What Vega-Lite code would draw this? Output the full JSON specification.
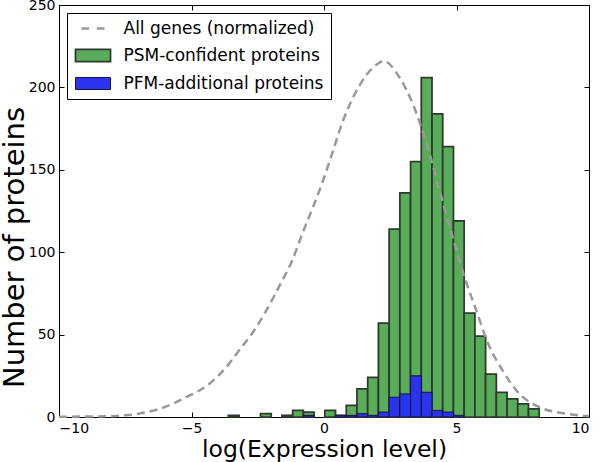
{
  "$schema": "https://vega.github.io/schema/vega-lite/v6.json",
  "width": 530,
  "height": 412,
  "autosize": {"type": "none"},
  "padding": {"left": 59, "top": 5, "right": 11, "bottom": 45},
  "background": "white",
  "config": {
    "view": {"stroke": "black", "strokeWidth": 1},
    "font": "DejaVu Sans",
    "axis": {
      "grid": false,
      "domainColor": "black",
      "tickColor": "black",
      "tickSize": -5,
      "labelPadding": 9,
      "labelFont": "DejaVu Sans",
      "labelFontSize": 14,
      "labelColor": "black",
      "titleFont": "DejaVu Sans",
      "titleFontWeight": "normal",
      "titleColor": "black"
    },
    "legend": {
      "labelFont": "DejaVu Sans",
      "labelFontSize": 17,
      "labelColor": "black",
      "title": null,
      "orient": "top-left",
      "offset": 8,
      "padding": 7,
      "strokeColor": "black",
      "fillColor": "white",
      "symbolSize": 196,
      "symbolOffset": 10.5,
      "symbolOpacity": 1,
      "labelOffset": 22,
      "labelLimit": 400,
      "rowPadding": 8
    }
  },
  "resolve": {"axis": {"x": "independent", "y": "independent"}},
  "datasets": {
    "bars": [
      {"x0": -3.610, "x1": -3.206, "count": 1, "series": "PSM-confident proteins"},
      {"x0": -2.397, "x1": -1.992, "count": 2, "series": "PSM-confident proteins"},
      {"x0": -1.588, "x1": -1.183, "count": 1, "series": "PSM-confident proteins"},
      {"x0": -1.183, "x1": -0.779, "count": 4, "series": "PSM-confident proteins"},
      {"x0": -0.779, "x1": -0.374, "count": 3, "series": "PSM-confident proteins"},
      {"x0": 0.031, "x1": 0.435, "count": 4, "series": "PSM-confident proteins"},
      {"x0": 0.435, "x1": 0.840, "count": 1, "series": "PSM-confident proteins"},
      {"x0": 0.840, "x1": 1.244, "count": 7, "series": "PSM-confident proteins"},
      {"x0": 1.244, "x1": 1.649, "count": 17, "series": "PSM-confident proteins"},
      {"x0": 1.649, "x1": 2.053, "count": 24, "series": "PSM-confident proteins"},
      {"x0": 2.053, "x1": 2.458, "count": 57, "series": "PSM-confident proteins"},
      {"x0": 2.458, "x1": 2.862, "count": 114, "series": "PSM-confident proteins"},
      {"x0": 2.862, "x1": 3.267, "count": 136, "series": "PSM-confident proteins"},
      {"x0": 3.267, "x1": 3.671, "count": 155, "series": "PSM-confident proteins"},
      {"x0": 3.671, "x1": 4.076, "count": 206, "series": "PSM-confident proteins"},
      {"x0": 4.076, "x1": 4.480, "count": 184, "series": "PSM-confident proteins"},
      {"x0": 4.480, "x1": 4.885, "count": 164, "series": "PSM-confident proteins"},
      {"x0": 4.885, "x1": 5.289, "count": 119, "series": "PSM-confident proteins"},
      {"x0": 5.289, "x1": 5.694, "count": 63, "series": "PSM-confident proteins"},
      {"x0": 5.694, "x1": 6.098, "count": 49, "series": "PSM-confident proteins"},
      {"x0": 6.098, "x1": 6.503, "count": 26, "series": "PSM-confident proteins"},
      {"x0": 6.503, "x1": 6.907, "count": 15, "series": "PSM-confident proteins"},
      {"x0": 6.907, "x1": 7.312, "count": 11, "series": "PSM-confident proteins"},
      {"x0": 7.312, "x1": 7.716, "count": 8, "series": "PSM-confident proteins"},
      {"x0": 7.716, "x1": 8.121, "count": 5, "series": "PSM-confident proteins"},
      {"x0": -0.779, "x1": -0.374, "count": 1, "series": "PFM-additional proteins"},
      {"x0": 0.435, "x1": 0.840, "count": 1, "series": "PFM-additional proteins"},
      {"x0": 0.840, "x1": 1.244, "count": 1, "series": "PFM-additional proteins"},
      {"x0": 1.244, "x1": 1.649, "count": 2, "series": "PFM-additional proteins"},
      {"x0": 1.649, "x1": 2.053, "count": 1, "series": "PFM-additional proteins"},
      {"x0": 2.053, "x1": 2.458, "count": 3, "series": "PFM-additional proteins"},
      {"x0": 2.458, "x1": 2.862, "count": 12, "series": "PFM-additional proteins"},
      {"x0": 2.862, "x1": 3.267, "count": 14, "series": "PFM-additional proteins"},
      {"x0": 3.267, "x1": 3.671, "count": 25, "series": "PFM-additional proteins"},
      {"x0": 3.671, "x1": 4.076, "count": 15, "series": "PFM-additional proteins"},
      {"x0": 4.076, "x1": 4.480, "count": 4, "series": "PFM-additional proteins"},
      {"x0": 4.480, "x1": 4.885, "count": 3, "series": "PFM-additional proteins"},
      {"x0": 4.885, "x1": 5.289, "count": 1, "series": "PFM-additional proteins"}
    ],
    "curve": [
      {"x": -10, "y": 0.1},
      {"x": -9, "y": 0.3},
      {"x": -8, "y": 0.5},
      {"x": -7.5, "y": 1},
      {"x": -7, "y": 2},
      {"x": -6.2, "y": 5},
      {"x": -5.2, "y": 12},
      {"x": -4.3, "y": 20.5},
      {"x": -3.7, "y": 30},
      {"x": -3.2, "y": 40.5},
      {"x": -2.7, "y": 51},
      {"x": -2.2, "y": 64},
      {"x": -1.7, "y": 79},
      {"x": -1.2, "y": 95},
      {"x": -0.8, "y": 112},
      {"x": -0.4, "y": 128},
      {"x": 0.0, "y": 145},
      {"x": 0.35, "y": 162},
      {"x": 0.7, "y": 179},
      {"x": 1.1, "y": 194},
      {"x": 1.6, "y": 207.5},
      {"x": 2.0, "y": 214},
      {"x": 2.25, "y": 216},
      {"x": 2.85, "y": 206},
      {"x": 3.35, "y": 190},
      {"x": 3.67, "y": 176},
      {"x": 4.05, "y": 156},
      {"x": 4.42, "y": 134},
      {"x": 4.86, "y": 109},
      {"x": 5.3, "y": 85},
      {"x": 5.74, "y": 65},
      {"x": 6.18, "y": 45},
      {"x": 6.75, "y": 28},
      {"x": 7.38, "y": 14},
      {"x": 8.13, "y": 6},
      {"x": 9.14, "y": 2},
      {"x": 10, "y": 0.5}
    ]
  },
  "layer": [
    {
      "data": {"name": "bars"},
      "mark": {"type": "bar", "fillOpacity": 1, "strokeOpacity": 1},
      "encoding": {
        "x": {"field": "x0", "type": "quantitative", "scale": {"domain": [-10, 10], "nice": false},
              "axis": {"values": [-10, -5, 0, 5, 10], "title": "log(Expression level)", "titleFontSize": 23.5,
                       "titleY": 39, "titleBaseline": "alphabetic"}},
        "x2": {"field": "x1"},
        "y": {"field": "count", "type": "quantitative", "scale": {"domain": [0, 250], "nice": false},
              "axis": {"values": [0, 50, 100, 150, 200, 250], "title": "Number of proteins", "titleFontSize": 29,
                       "titleX": -36, "titleY": 242, "titleAngle": 270, "titleBaseline": "alphabetic", "titleAlign": "center"}},
        "y2": {"datum": 0},
        "fill": {
          "field": "series", "type": "nominal",
          "scale": {"domain": ["All genes (normalized)", "PSM-confident proteins", "PFM-additional proteins"],
                    "range": ["transparent", "#59ac59", "#2a33ee"]},
          "legend": {}
        },
        "stroke": {
          "field": "series", "type": "nominal",
          "scale": {"domain": ["All genes (normalized)", "PSM-confident proteins", "PFM-additional proteins"],
                    "range": ["#999999", "#2e3a2e", "#15153a"]},
          "legend": {}
        },
        "strokeWidth": {
          "field": "series", "type": "nominal",
          "scale": {"domain": ["All genes (normalized)", "PSM-confident proteins", "PFM-additional proteins"],
                    "range": [2.5, 1, 1]},
          "legend": {}
        }
      }
    },
    {
      "data": {"name": "bars"},
      "mark": {"type": "point", "size": 0, "opacity": 0},
      "encoding": {
        "x": {"field": "x0", "type": "quantitative", "axis": null},
        "y": {"field": "count", "type": "quantitative", "axis": null},
        "shape": {
          "field": "series", "type": "nominal",
          "scale": {"domain": ["All genes (normalized)", "PSM-confident proteins", "PFM-additional proteins"],
                    "range": ["M-1.65,0L-0.55,0M0.55,0L1.65,0", "M-2.5,-0.86L2.5,-0.86L2.5,0.86L-2.5,0.86Z", "M-2.5,-0.86L2.5,-0.86L2.5,0.86L-2.5,0.86Z"]},
          "legend": {}
        }
      }
    },
    {
      "data": {"name": "curve"},
      "mark": {"type": "line", "color": "#999999", "strokeWidth": 2.5, "strokeDash": [8, 5], "interpolate": "monotone"},
      "encoding": {
        "x": {"field": "x", "type": "quantitative",
              "axis": {"orient": "top", "values": [-10, -5, 0, 5, 10], "labels": false, "title": null, "domain": false}},
        "y": {"field": "y", "type": "quantitative",
              "axis": {"orient": "right", "values": [0, 50, 100, 150, 200, 250], "labels": false, "title": null, "domain": false}}
      }
    }
  ]
}
